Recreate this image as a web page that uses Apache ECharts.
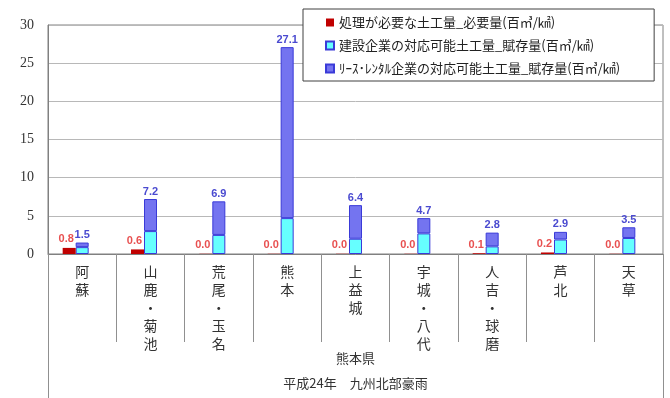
<!DOCTYPE html>
<html>
<head>
<meta charset="utf-8">
<script src="https://cdn.jsdelivr.net/npm/echarts@6/dist/echarts.min.js"></script>
<style>
  html, body { margin: 0; padding: 0; background: #fff; }
  #chart { width: 670px; height: 398px; }
</style>
</head>
<body>
<div id="chart"></div>
<script>
// 熊本県 土工量 棒グラフ

const categories = ['阿蘇', '山鹿・菊池', '荒尾・玉名', '熊本', '上益城', '宇城・八代', '人吉・球磨', '芦北', '天草'];
const necessary = [0.8, 0.6, 0.03, 0.03, 0.03, 0.03, 0.1, 0.2, 0.03];   // 必要量
const construction = [0.9, 3.0, 2.5, 4.7, 2.0, 2.7, 1.0, 1.9, 2.1];    // 建設企業
const lease = [0.6, 4.2, 4.4, 22.4, 4.4, 2.0, 1.8, 1.0, 1.4];          // リース・レンタル企業
const totals = [1.5, 7.2, 6.9, 27.1, 6.4, 4.7, 2.8, 2.9, 3.5];         // 賦存量合計
const yTicks = [0, 5, 10, 15, 20, 25, 30];

const names = [
  '処理が必要な土工量_必要量(百㎥/㎢)',
  '建設企業の対応可能土工量_賦存量(百㎥/㎢)',
  'ﾘｰｽ･ﾚﾝﾀﾙ企業の対応可能土工量_賦存量(百㎥/㎢)'
];

const chart = echarts.init(document.getElementById('chart'));
const cjk = '"Noto Sans CJK JP", sans-serif';

const option = {
  animation: false,
  grid: {
    left: 48, right: 7, top: 25, bottom: 144,
    show: true, borderColor: '#808080', borderWidth: 1
  },
  legend: {
    data: names,
    orient: 'vertical',
    left: 303, top: 9,
    padding: [7, 34, 6, 22],
    itemWidth: 8, itemHeight: 8,
    itemGap: 10,
    icon: 'rect',
    backgroundColor: '#fff',
    borderColor: '#404040',
    borderWidth: 1,
    textStyle: { fontFamily: cjk, fontSize: 13, color: '#222' }
  },
  xAxis: [
    {
      type: 'category',
      data: categories,
      position: 'bottom',
      axisLine: { lineStyle: { color: '#808080' } },
      axisTick: { show: true, length: 88, interval: 0, lineStyle: { color: '#909090' } },
      axisLabel: {
        interval: 0,
        margin: 9,
        fontFamily: cjk,
        fontSize: 14,
        lineHeight: 18,
        color: '#333',
        formatter: v => v.split('').join('\n')
      }
    },
    {
      type: 'category',
      data: ['熊本県'],
      position: 'bottom',
      axisLine: { show: false },
      axisTick: { show: true, length: 144, interval: 0, lineStyle: { color: '#909090' } },
      axisLabel: { margin: 98, fontFamily: cjk, fontSize: 13, color: '#333' },
      name: '平成24年　九州北部豪雨',
      nameLocation: 'middle',
      nameGap: 123,
      nameTextStyle: { fontFamily: cjk, fontSize: 13, color: '#333' }
    }
  ],
  yAxis: {
    type: 'value',
    min: yTicks[0], max: yTicks[yTicks.length - 1], interval: 5,
    axisLine: { show: true, lineStyle: { color: '#808080' } },
    axisTick: { show: false },
    splitLine: { lineStyle: { color: '#b8b8b8' } },
    axisLabel: { margin: 14, fontFamily: '"Liberation Serif", serif', fontSize: 14, color: '#333' }
  },
  series: [
    {
      name: names[0],
      type: 'bar',
      stack: 'need',
      barWidth: 13,
      barGap: '0%',
      data: necessary,
      itemStyle: { color: '#c00000' },
      z: 3,
      label: {
        show: true,
        position: 'top',
        distance: 3,
        offset: [-3, 0],
        color: '#e85050',
        fontFamily: '"Liberation Sans", Arial',
        fontWeight: 'bold',
        fontSize: 11,
        formatter: p => p.value.toFixed(1)
      }
    },
    {
      name: names[1],
      type: 'bar',
      stack: 'supply',
      barWidth: 13,
      barGap: '0%',
      data: construction,
      itemStyle: { color: '#66ffff', borderColor: '#3a3ad8', borderWidth: 1 }
    },
    {
      name: names[2],
      type: 'bar',
      stack: 'supply',
      barWidth: 13,
      barGap: '0%',
      data: lease,
      itemStyle: { color: '#7474f0', borderColor: '#3a3ad8', borderWidth: 1 },
      label: {
        show: true,
        position: 'top',
        distance: 2,
        color: '#4a4ad0',
        fontFamily: '"Liberation Sans", Arial',
        fontWeight: 'bold',
        fontSize: 11,
        formatter: p => totals[p.dataIndex].toFixed(1)
      }
    },
    {
      // 空系列(位置合わせ用)
      name: 'dummy',
      type: 'bar',
      stack: 'empty',
      barWidth: 13,
      barGap: '0%',
      data: categories.map(() => null)
    }
  ]
};
chart.setOption(option);
</script>
</body>
</html>
